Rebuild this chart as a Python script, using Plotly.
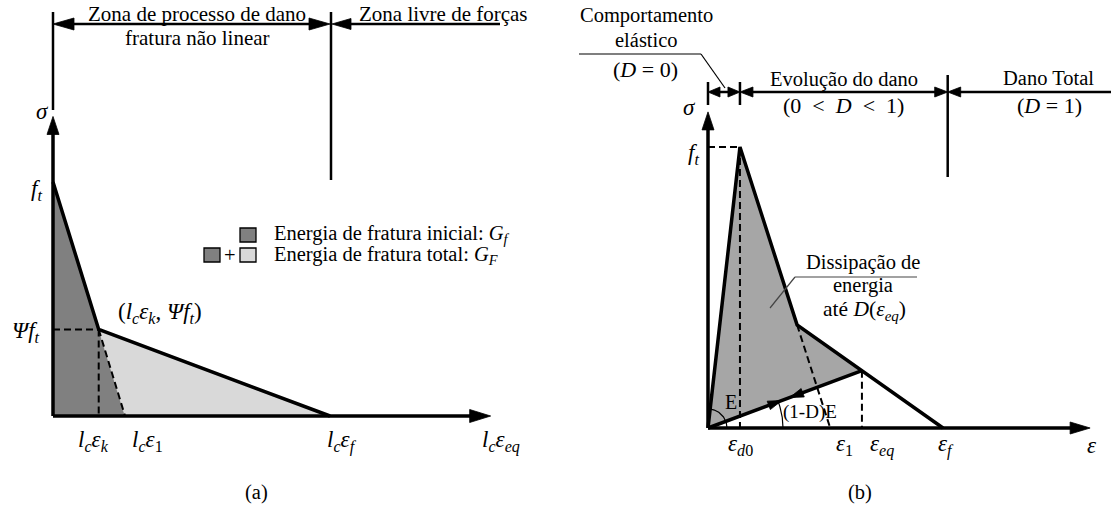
import numpy as np
import plotly.graph_objects as go

W, H = 1111, 521
SERIF = "Liberation Serif"
INK = "#000000"
DARK, LIGHT, MID = "#808080", "#d9d9d9", "#a6a6a6"
TXT = 20.5
MATH = 23

# (a) bilinear softening: sigma (units of f_t) against l_c*eps_eq (units of l_c*eps_f)
A_X = [0.0, 0.165, 1.0]            # 0, l_c eps_k, l_c eps_f
A_Y = [1.0, 0.37, 0.0]             # f_t, Psi f_t, 0
A_EPS1 = 0.26                      # l_c eps_1: first branch carried down to sigma = 0
A_AXIS_END = [1.58, 1.28]          # arrow tips of abscissa / ordinate
A_TICK_X = [0.165, 0.26, 1.0, 1.58]
A_TICK_TEXT = [
    "<i>l</i><sub><i>c</i></sub><i>ε</i><sub><i>k</i></sub>",
    "<i>l</i><sub><i>c</i></sub><i>ε</i><sub>1</sub>",
    "<i>l</i><sub><i>c</i></sub><i>ε</i><sub><i>f</i></sub>",
    "<i>l</i><sub><i>c</i></sub><i>ε</i><sub><i>eq</i></sub>",
]
A_TICK_DX = [-5, 22, 12, 10]

# (b) isotropic damage: loading, softening and unloading with damaged stiffness
B_X = [0.0, 0.136, 0.379, 1.0]     # 0, eps_d0, change of slope, eps_f
B_Y = [0.0, 1.0, 0.367, 0.0]       # 0, f_t, ..., 0
B_EPS1 = 0.52                      # eps_1: first softening branch carried to sigma = 0
B_EQ = [0.655, 0.204]              # (eps_eq, sigma(eps_eq)) where unloading starts
B_AXIS_END = [1.626, 1.125]
B_ZONE_END = 1.02                  # start of the total damage zone
B_TICK_X = [0.136, 0.52, 0.655, 1.0, 1.626]
B_TICK_TEXT = [
    "<i>ε</i><sub><i>d</i>0</sub>",
    "<i>ε</i><sub>1</sub>",
    "<i>ε</i><sub><i>eq</i></sub>",
    "<i>ε</i><sub><i>f</i></sub>",
    "<i>ε</i>",
]
B_TICK_DX = [1, 14, 20, 3, 2]
B_UNLOAD_MARKS = [0.48, 0.53]      # arrow positions along the unloading branch

# where each diagram sits: pixel of its origin and pixels per unit
FRAME = {
    "a": {"axes": ("x", "y"), "origin": (53, 416), "unit": (277, 234), "dom": (0.0, 0.5)},
    "b": {"axes": ("x2", "y2"), "origin": (708, 428), "unit": (235, 281), "dom": (0.5, 1.0)},
}


def to_px(p, x, y):
    (ox, oy), (ux, uy) = FRAME[p]["origin"], FRAME[p]["unit"]
    return ox + np.asarray(x) * ux, oy - np.asarray(y) * uy


def from_px(p, px, py):
    (ox, oy), (ux, uy) = FRAME[p]["origin"], FRAME[p]["unit"]
    return (np.asarray(px) - ox) / ux, (oy - np.asarray(py)) / uy


fig = go.Figure()


def path(p, xs, ys, width=3.5, dash=None, color=INK, fill=None):
    xa, ya = FRAME[p]["axes"]
    kw = dict(x=list(xs), y=list(ys), xaxis=xa, yaxis=ya, mode="lines",
              hoverinfo="skip", showlegend=False)
    if fill:
        kw.update(fill="toself", fillcolor=fill, line=dict(width=0.5, color=fill))
    else:
        kw.update(line=dict(width=width, color=color, dash=dash))
    fig.add_trace(go.Scatter(**kw))


def path_px(p, pxs, pys, **kw):
    xs, ys = from_px(p, pxs, pys)
    path(p, xs, ys, **kw)


def head_px(p, tip, back, length, width):
    t = np.array(tip, float)
    d = t - np.array(back, float)
    d /= np.hypot(*d)
    n = np.array([-d[1], d[0]])
    base = t - d * length
    pts = np.array([t, base + n * width / 2, base - n * width / 2, t])
    xs, ys = from_px(p, pts[:, 0], pts[:, 1])
    xa, ya = FRAME[p]["axes"]
    fig.add_trace(go.Scatter(x=xs, y=ys, xaxis=xa, yaxis=ya, mode="lines",
                             fill="toself", fillcolor=INK,
                             line=dict(width=0.8, color=INK),
                             hoverinfo="skip", showlegend=False))


def arrow_px(p, a, b, head_a=False, head_b=True, length=20, width=12, lw=3.5):
    a = np.array(a, float)
    b = np.array(b, float)
    d = (b - a) / np.hypot(*(b - a))
    s = a + d * length * 0.6 if head_a else a
    e = b - d * length * 0.6 if head_b else b
    path_px(p, [s[0], e[0]], [s[1], e[1]], width=lw)
    if head_a:
        head_px(p, a, b, length, width)
    if head_b:
        head_px(p, b, a, length, width)


def P(px, py):
    return px / W, 1 - py / H


annotations = []
shapes = []


def label(px, py, text, size=TXT, xanchor="center"):
    x, y = P(px, py)
    annotations.append(dict(x=x, y=y, xref="paper", yref="paper", text=text,
                            showarrow=False, xanchor=xanchor, yanchor="middle",
                            font=dict(family=SERIF, size=size, color=INK)))


def seg(x0, y0, x1, y1, width=1.2, color=INK):
    a, b = P(x0, y0)
    c, d = P(x1, y1)
    shapes.append(dict(type="line", xref="paper", yref="paper", x0=a, y0=b, x1=c, y1=d,
                       line=dict(color=color, width=width)))


def tick_labels(p, xs, texts, dxs, dy):
    xa, ya = FRAME[p]["axes"]
    for x, t, dx in zip(xs, texts, dxs):
        annotations.append(dict(x=x, y=0, xref=xa, yref=ya, text=t, showarrow=False,
                                xshift=dx, yshift=dy, xanchor="center", yanchor="middle",
                                font=dict(family=SERIF, size=MATH, color=INK)))


DASH = "7px,4px"

# ------------------------------------------------------------------ panel (a)
kx, ky = A_X[1], A_Y[1]
path("a", [0, 0, kx, A_EPS1, 0], [0, A_Y[0], ky, 0, 0], fill=DARK)
path("a", [kx, A_X[2], A_EPS1, kx], [ky, 0, 0, ky], fill=LIGHT)
path("a", [0, kx], [ky, ky], width=2, dash=DASH)
path("a", [kx, kx], [ky, 0], width=2, dash=DASH)
path("a", [kx, A_EPS1], [ky, 0], width=2, dash=DASH)
path("a", [0] + A_X, [A_Y[0]] + A_Y, width=3.5)

ox, oy = to_px("a", 0, 0)
ex, _ = to_px("a", A_AXIS_END[0], 0)
_, ey = to_px("a", 0, A_AXIS_END[1])
arrow_px("a", (ox, oy), (ex, oy), length=21, width=13)
arrow_px("a", (ox, oy), (ox, ey), length=18, width=12)

# process zone / stress free zone header
fx, _ = to_px("a", A_X[2], 0)
path_px("a", [ox, ox], [12, 110], width=2.5)
path_px("a", [fx + 1, fx + 1], [12, 180], width=2.5)
arrow_px("a", (ox, 24), (fx, 24), head_a=True, head_b=True, length=21, width=12, lw=2.5)
arrow_px("a", (fx + 2, 24), (500, 24), head_a=True, head_b=False, length=19, width=11, lw=2.5)
label(197, 13.5, "Zona de processo de dano", size=21)
label(197, 38.5, "fratura não linear", size=21)
label(443, 14, "Zona livre de forças", size=21)

tick_labels("a", A_TICK_X, A_TICK_TEXT, A_TICK_DX, -25)
label(42, 111, "<i>σ</i>", size=MATH)
label(36, 190, "<i>f</i><sub><i>t</i></sub>", size=MATH)
label(26, 332, "<i>Ψf</i><sub><i>t</i></sub>", size=MATH)
label(160, 313, "(<i>l</i><sub><i>c</i></sub><i>ε</i><sub><i>k</i></sub>, <i>Ψf</i><sub><i>t</i></sub>)",
      size=MATH)

# key for the two energies
for (x0, y0, c) in [(240, 228, DARK), (204, 248, DARK), (240, 248, LIGHT)]:
    a, b = P(x0, y0)
    c2, d = P(x0 + 16, y0 + 14)
    shapes.append(dict(type="rect", xref="paper", yref="paper", x0=a, y0=b, x1=c2, y1=d,
                       fillcolor=c, line=dict(color=INK, width=1.3)))
label(230, 255, "+")
label(272, 234, "Energia de fratura inicial: <i>G</i><sub><i>f</i></sub>", xanchor="left")
label(272, 255, "Energia de fratura total: <i>G</i><sub><i>F</i></sub>", xanchor="left")
label(256, 492, "(a)")

# ------------------------------------------------------------------ panel (b)
px0, py0 = B_X[1], B_Y[1]
qx, qy = B_X[2], B_Y[2]
path("b", [0, px0, qx, B_EQ[0], 0], [0, py0, qy, B_EQ[1], 0], fill=MID)
path("b", [0, px0], [py0, py0], width=2, dash=DASH)
path("b", [px0, px0], [py0, 0], width=2, dash=DASH)
path("b", [qx, B_EPS1], [qy, 0], width=2, dash=DASH)
path("b", [B_EQ[0], B_EQ[0]], [B_EQ[1], 0], width=2, dash=DASH)
path("b", B_X, B_Y, width=3.5)
path("b", [0, B_EQ[0]], [0, B_EQ[1]], width=3.5)

# loading / unloading arrows on the damaged-stiffness branch
o = np.array(to_px("b", 0, 0), float)
q = np.array(to_px("b", *B_EQ), float)
for i, t in enumerate(B_UNLOAD_MARKS):
    tip = o + (q - o) * t
    head_px("b", tip, o if i == 0 else q, 14, 9)

# stiffness angles
ox, oy = o


def arc(p, r, theta):
    th = np.linspace(0, theta, 40)
    path_px(p, ox + r * np.cos(th), oy - r * np.sin(th), width=1.2)


pk = to_px("b", px0, py0)
arc("b", 19, np.arctan2(oy - pk[1], pk[0] - ox))
arc("b", 75, np.arctan2(oy - q[1], q[0] - ox))
label(731, 402, "E", size=20)
label(810, 412, "(1-D)E", size=19)

ex, _ = to_px("b", B_AXIS_END[0], 0)
_, ey = to_px("b", 0, B_AXIS_END[1])
arrow_px("b", (ox, oy), (ex, oy), length=20, width=12)
arrow_px("b", (ox, oy), (ox, ey), length=18, width=12)

# elastic / damage evolution / total damage header
dx0, _ = to_px("b", px0, 0)
zx, _ = to_px("b", B_ZONE_END, 0)
path_px("b", [ox, ox], [82, 105], width=2.5)
path_px("b", [dx0, dx0], [82, 105], width=2.5)
path_px("b", [zx, zx], [75, 177], width=2.5)
arrow_px("b", (ox, 92), (dx0, 92), head_a=True, head_b=True, length=12, width=10, lw=2.5)
arrow_px("b", (dx0, 92), (zx, 92), head_a=True, head_b=True, length=13, width=10, lw=2.5)
arrow_px("b", (zx, 92), (W + 5, 92), head_a=True, head_b=False, length=13, width=10, lw=2.5)

label(646, 15.5, "Comportamento")
label(646, 40, "elástico")
label(645, 70, "(<i>D</i> = 0)", size=22)
seg(579, 54, 701, 54)
seg(701, 54, 725, 88)
label(844, 79, "Evolução do dano")
label(843, 105, "(0&nbsp; &lt;&nbsp; <i>D</i>&nbsp; &lt;&nbsp; 1)", size=22)
label(1048, 78, "Dano Total")
label(1049, 105, "(<i>D</i> = 1)", size=22)

label(863, 262, "Dissipação de")
label(863, 285, "energia")
label(864, 310, "até <i>D</i>(<i>ε</i><sub><i>eq</i></sub>)", size=21.5)
seg(795, 277, 917, 277, color="#444444")
seg(795, 277, 770, 308, color="#444444")

tick_labels("b", B_TICK_X, B_TICK_TEXT, B_TICK_DX, -17)
label(689, 107, "<i>σ</i>", size=MATH)
label(693, 154, "<i>f</i><sub><i>t</i></sub>", size=MATH)
label(860, 492, "(b)")


def rng(p):
    (ox_, oy_), (ux, uy) = FRAME[p]["origin"], FRAME[p]["unit"]
    d0, d1 = FRAME[p]["dom"]
    return [(d0 * W - ox_) / ux, (d1 * W - ox_) / ux], [(oy_ - H) / uy, oy_ / uy]


ax_a, ay_a = rng("a")
ax_b, ay_b = rng("b")
hidden = dict(visible=False, showgrid=False, zeroline=False, fixedrange=True)
fig.update_layout(
    width=W, height=H, margin=dict(l=0, r=0, t=0, b=0, pad=0),
    paper_bgcolor="white", plot_bgcolor="white", showlegend=False,
    font=dict(family=SERIF, size=TXT, color=INK),
    xaxis=dict(domain=[0, 0.5], range=ax_a, anchor="y", **hidden),
    yaxis=dict(domain=[0, 1], range=ay_a, anchor="x", **hidden),
    xaxis2=dict(domain=[0.5, 1], range=ax_b, anchor="y2", **hidden),
    yaxis2=dict(domain=[0, 1], range=ay_b, anchor="x2", **hidden),
    annotations=annotations,
    shapes=shapes,
)

fig.write_html("out.html")
